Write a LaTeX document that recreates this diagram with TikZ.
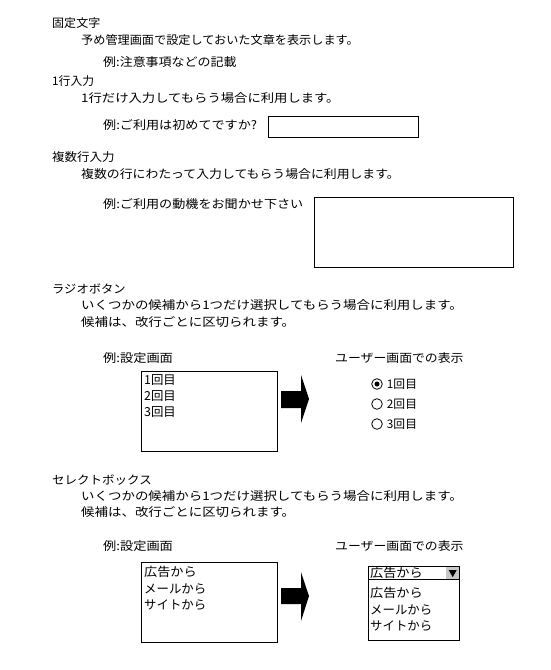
\documentclass[tikz,border=0pt]{standalone}
\usepackage{graphicx}
\usepackage{fontspec}
\setmainfont{Noto Sans CJK JP}
\usetikzlibrary{positioning}
\definecolor{btngrey}{HTML}{C8C8C8}
\newcommand\sx[2]{\scalebox{#1}[1]{#2}}
\tikzset{
  font=\fontsize{11.8}{14.5}\selectfont,
  txt/.style={anchor=west,inner sep=0pt},
  field/.style={draw,line width=0.8pt,anchor=north west,inner sep=0pt},
  listtxt/.style={anchor=north west,inner sep=0pt,align=left,
                  font=\fontsize{12.4}{16.4}\selectfont},
  radio/.style={draw,circle,line width=0.8pt,minimum size=10.6pt,inner sep=0pt},
  radiodot/.style={fill,circle,minimum size=5pt,inner sep=0pt},
  fatarrow/.style={fill=black},
}

\begin{document}
\begin{tikzpicture}[x=1pt,y=-1pt]
  \useasboundingbox (0,0) rectangle (550,670);

  % fixed text
  \node[txt] (fixtitle) at (52,23) {\sx{1.02}{固定文字}};
  \node[txt] (fixdesc) at (81,40) {\sx{1.03}{予め管理画面で設定しておいた文章を表示します。}};
  \node[txt] (fixex) at (103,62) {\sx{1.10}{例:注意事項などの記載}};

  % single line input
  \node[txt] (onetitle) at (52,81) {1行入力};
  \node[txt] (onedesc) at (81,98) {\sx{1.13}{1行だけ入力してもらう場合に利用します。}};
  \node[txt] (oneex) at (103,125) {\sx{1.11}{例:ご利用は初めてですか?}};
  \node[field,minimum width=150pt,minimum height=21pt] (onebox) at (268,116) {};

  % multi line input
  \node[txt] (multititle) at (52,157) {\sx{1.06}{複数行入力}};
  \node[txt] (multidesc) at (81,174) {\sx{1.09}{複数の行にわたって入力してもらう場合に利用します。}};
  \node[txt] (multiex) at (103,204) {\sx{1.11}{例:ご利用の動機をお聞かせ下さい}};
  \node[field,minimum width=199pt,minimum height=70pt] (multibox) at (314,197) {};

  % radio buttons
  \node[txt] (radiotitle) at (52,289) {\sx{1.04}{ラジオボタン}};
  \node[txt] (radiodesca) at (81,305) {\sx{1.14}{いくつかの候補から1つだけ選択してもらう場合に利用します。}};
  \node[txt] (radiodescb) at (81,322) {\sx{1.14}{候補は、改行ごとに区切られます。}};
  \node[txt] (radioset) at (103,358) {\sx{1.12}{例:設定画面}};
  \node[txt] (radiouser) at (335,358) {\sx{1.09}{ユーザー画面での表示}};
  \node[field,minimum width=136pt,minimum height=80pt] (radiobox) at (141,371) {};
  \node[listtxt] (radiolist) at (144,374) {1回目\\2回目\\3回目};
  \fill[fatarrow] (281,391) -- (301,391) -- (301,375) -- (309,399)
    -- (301,423) -- (301,408) -- (281,408) -- cycle;
  \foreach \i/\yy in {1/384,2/404,3/424}{
    \node[radio] (rb\i) at (377,\yy) {};
    \node[txt,right=4pt of rb\i] (rbtxt\i) {\i 回目};
  }
  \node[radiodot] (rbsel) at (rb1) {};

  % select box
  \node[txt] (seltitle) at (52,480) {\sx{1.06}{セレクトボックス}};
  \node[txt] (seldesca) at (81,496) {\sx{1.14}{いくつかの候補から1つだけ選択してもらう場合に利用します。}};
  \node[txt] (seldescb) at (81,512) {\sx{1.14}{候補は、改行ごとに区切られます。}};
  \node[txt] (selset) at (103,546) {\sx{1.12}{例:設定画面}};
  \node[txt] (seluser) at (335,546) {\sx{1.09}{ユーザー画面での表示}};
  \node[field,minimum width=136pt,minimum height=80pt] (selbox) at (141,562) {};
  \node[listtxt] (sellist) at (144,566) {\sx{1.06}{広告から}\\メールから\\サイトから};
  \fill[fatarrow] (281,588) -- (301,588) -- (301,572) -- (309,596)
    -- (301,621) -- (301,604) -- (281,604) -- cycle;

  \node[field,minimum width=91pt,minimum height=74pt] (dropbox) at (368,566) {};
  \node[fill=btngrey,anchor=north east,minimum width=13pt,minimum height=13pt,
        inner sep=0pt] (dropbtn) at ([xshift=-0.4pt,yshift=-0.4pt]dropbox.north east) {};
  \draw[line width=0.8pt] ([yshift=-13pt]dropbox.north west) -- ([yshift=-13pt]dropbox.north east);
  \fill ([xshift=-4pt,yshift=3pt]dropbtn.center) -- ([xshift=4pt,yshift=3pt]dropbtn.center)
    -- ([yshift=-4pt]dropbtn.center) -- cycle;
  \node[txt,font=\fontsize{12.4}{16}\selectfont] (dropsel) at (370,573) {\sx{1.06}{広告から}};
  \node[listtxt] (droplist) at (370,587) {\sx{1.06}{広告から}\\メールから\\サイトから};
\end{tikzpicture}
\end{document}
